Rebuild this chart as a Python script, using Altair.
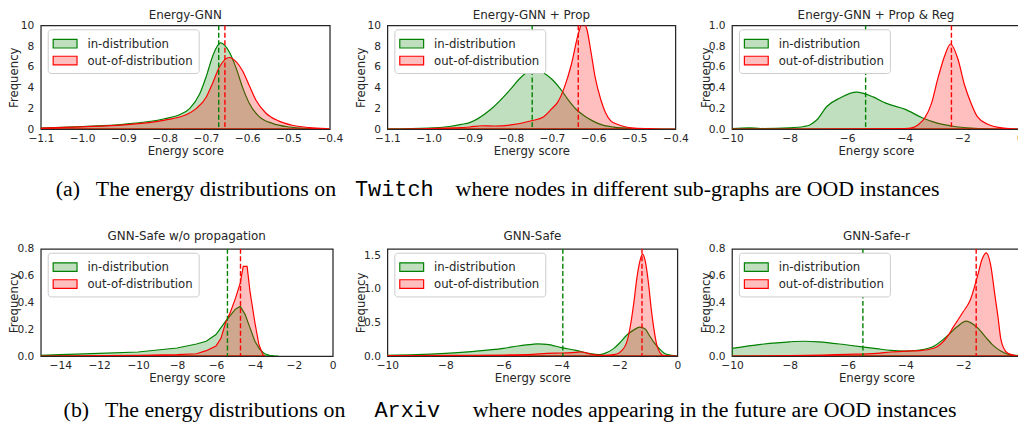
import altair as alt
import pandas as pd

GREEN = "#008000"
RED = "#ff0000"
GREEN_FILL = "rgba(0,128,0,0.25)"
RED_FILL = "rgba(255,0,0,0.25)"
TEXT = "#262626"
FONT = "DejaVu Sans"
SERIF = "Liberation Serif"
MONO = "Liberation Mono"
SERIES = ["in-distribution", "out-of-distribution"]

# ---------------- data ----------------
# (a) Twitch
p1_title = "Energy-GNN"
p1_in_x = [-1.1, -1.0, -0.9, -0.8, -0.763, -0.739, -0.715, -0.699, -0.683, -0.665, -0.643, -0.627, -0.611, -0.595, -0.571, -0.539, -0.498, -0.45, -0.4]
p1_in_y = [0.10, 0.25, 0.46, 1.0, 1.4, 2.0, 3.4, 5.1, 7.1, 8.3, 7.4, 5.9, 4.0, 2.5, 1.2, 0.55, 0.2, 0.06, 0.0]
p1_out_x = [-1.1, -1.0, -0.9, -0.8, -0.747, -0.723, -0.699, -0.683, -0.667, -0.643, -0.627, -0.611, -0.595, -0.579, -0.555, -0.523, -0.491, -0.45, -0.405, -0.4]
p1_out_y = [0.10, 0.22, 0.40, 0.87, 1.4, 2.0, 3.1, 4.5, 6.0, 6.9, 6.5, 5.6, 4.2, 2.8, 1.55, 0.77, 0.37, 0.15, 0.03, 0.02]
p1_means = [-0.669, -0.654]

p2_title = "Energy-GNN + Prop"
p2_in_x = [-1.1, -1.0, -0.95, -0.92, -0.9, -0.85, -0.8, -0.78, -0.76, -0.748, -0.72, -0.7, -0.68, -0.66, -0.64, -0.62, -0.6, -0.58, -0.55, -0.5, -0.45, -0.4]
p2_in_y = [0.02, 0.10, 0.25, 0.45, 0.62, 1.86, 3.87, 4.8, 5.5, 5.8, 5.4, 4.8, 3.9, 2.8, 1.86, 1.24, 0.77, 0.43, 0.19, 0.05, 0.01, 0.0]
p2_out_x = [-1.1, -1.0, -0.9, -0.87, -0.84, -0.8, -0.75, -0.72, -0.702, -0.686, -0.67, -0.653, -0.637, -0.625, -0.615, -0.605, -0.595, -0.581, -0.57, -0.557, -0.54, -0.525, -0.5, -0.45, -0.4]
p2_out_y = [0.0, 0.05, 0.2, 0.32, 0.3, 0.4, 0.8, 1.2, 1.9, 2.6, 4.0, 6.2, 9.0, 10.3, 9.6, 7.4, 5.0, 2.8, 1.6, 0.8, 0.45, 0.25, 0.1, 0.03, 0.0]
p2_means = [-0.748, -0.636]

p3_title = "Energy-GNN + Prop & Reg"
p3_in_x = [-10, -9.4, -9, -8, -7.5, -7.3, -7.05, -6.7, -6.25, -5.68, -5.1, -4.66, -3.98, -3.4, -2.84, -2.27, -1.7, -1.0, 0]
p3_in_y = [0.005, 0.012, 0.006, 0.012, 0.025, 0.04, 0.09, 0.22, 0.30, 0.356, 0.31, 0.25, 0.19, 0.11, 0.055, 0.025, 0.01, 0.003, 0.0]
p3_out_x = [-10, -6, -4, -3.75, -3.52, -3.3, -3.07, -2.84, -2.61, -2.41, -2.16, -1.93, -1.7, -1.48, -1.14, -0.57, 0]
p3_out_y = [0.0, 0.002, 0.005, 0.012, 0.045, 0.11, 0.25, 0.5, 0.71, 0.82, 0.68, 0.43, 0.25, 0.12, 0.05, 0.01, 0.0]
p3_means = [-5.36, -2.38]

# (b) Arxiv
p4_title = "GNN-Safe w/o propagation"
p4_in_x = [-15, -14, -12, -10, -9, -8, -7, -6.5, -6, -5.5, -5, -4.75, -4.5, -4.25, -4, -3.75, -3.5, -3.25, -3, -2.8]
p4_in_y = [0.005, 0.01, 0.02, 0.03, 0.045, 0.06, 0.09, 0.11, 0.16, 0.26, 0.35, 0.37, 0.31, 0.21, 0.11, 0.05, 0.017, 0.006, 0.002, 0.0]
p4_out_x = [-15, -10, -8, -7, -6.5, -6, -5.75, -5.5, -5.25, -5, -4.75, -4.6, -4.4, -4.25, -4, -3.8, -3.6, -3.5]
p4_out_y = [0.0, 0.005, 0.01, 0.017, 0.04, 0.075, 0.13, 0.25, 0.33, 0.43, 0.545, 0.668, 0.668, 0.48, 0.25, 0.09, 0.012, 0.0]
p4_means = [-5.41, -4.74]

p5_title = "GNN-Safe"
p5_in_x = [-10, -9, -8, -7, -6, -5.5, -5, -4.8, -4.5, -4, -3.5, -3, -2.7, -2.5, -2.2, -2, -1.75, -1.5, -1.3, -1.1, -1.0, -0.8, -0.6, -0.4, -0.2, 0]
p5_in_y = [0.01, 0.02, 0.04, 0.07, 0.115, 0.15, 0.175, 0.18, 0.175, 0.125, 0.085, 0.035, 0.02, 0.04, 0.11, 0.19, 0.31, 0.39, 0.43, 0.40, 0.33, 0.2, 0.1, 0.03, 0.01, 0.0]
p5_out_x = [-10, -8, -6, -5, -4.5, -4, -3.5, -3.3, -3, -2.5, -2.2, -2, -1.75, -1.6, -1.5, -1.4, -1.3, -1.2, -1.1, -1.0, -0.9, -0.8, -0.7, -0.6, -0.5, 0]
p5_out_y = [0.005, 0.01, 0.015, 0.025, 0.04, 0.045, 0.055, 0.06, 0.03, 0.01, 0.02, 0.05, 0.2, 0.5, 0.8, 1.15, 1.4, 1.52, 1.4, 1.1, 0.7, 0.38, 0.15, 0.05, 0.01, 0.0]
p5_means = [-3.95, -1.22]

p6_title = "GNN-Safe-r"
p6_in_x = [-10, -9, -8, -7.5, -7, -6, -5, -4.5, -4, -3.5, -3, -2.5, -2.2, -1.9, -1.5, -1.2, -1.0, -0.7, -0.4, 0]
p6_in_y = [0.057, 0.087, 0.106, 0.11, 0.106, 0.082, 0.055, 0.042, 0.037, 0.045, 0.075, 0.16, 0.22, 0.26, 0.21, 0.136, 0.087, 0.037, 0.01, 0.002]
p6_out_x = [-10, -8, -6, -5, -4.5, -4, -3.5, -3, -2.5, -2.36, -2, -1.75, -1.5, -1.35, -1.2, -1.05, -0.9, -0.8, -0.7, -0.6, -0.45, -0.2, 0]
p6_out_y = [0.0, 0.003, 0.012, 0.02, 0.03, 0.037, 0.04, 0.06, 0.16, 0.21, 0.33, 0.42, 0.6, 0.72, 0.77, 0.68, 0.45, 0.3, 0.13, 0.06, 0.02, 0.004, 0.0]
p6_means = [-5.47, -1.55]

# axis ticks
x_ticks_twitch = [-1.1, -1.0, -0.9, -0.8, -0.7, -0.6, -0.5, -0.4]
x_ticks_10 = [-10, -8, -6, -4, -2, 0]
x_ticks_15 = [-14, -12, -10, -8, -6, -4, -2, 0]
y_ticks_10 = [0, 2, 4, 6, 8, 10]
y_ticks_1 = [0.0, 0.2, 0.4, 0.6, 0.8, 1.0]
y_ticks_08 = [0.0, 0.2, 0.4, 0.6, 0.8]
y_ticks_15 = [0.0, 0.5, 1.0, 1.5]

cap_a = ["(a)\u2002 The energy distributions on", "Twitch", "where nodes in different sub-graphs are OOD instances"]
cap_b = ["(b)\u2002 The energy distributions on", "Arxiv", "where nodes appearing in the future are OOD instances"]

LEG_SYMBOL = "M-1.386,-0.5H1.386V0.5H-1.386Z"


def legend():
    return alt.Legend(
        orient="none", legendX=7, legendY=4, title=None, symbolType=LEG_SYMBOL, symbolSize=300,
        symbolStrokeWidth=1.2, symbolOffset=3, labelFont=FONT, labelFontSize=11.8,
        labelColor=TEXT, labelOffset=13, padding=5, rowPadding=0, fillColor="white",
        strokeColor="#cccccc", cornerRadius=3,
    )


def text_layer(t, x, y, font, size, align, color):
    return alt.Chart(pd.DataFrame({"t": [t]})).mark_text(
        font=font, fontSize=size, align=align, baseline="alphabetic", color=color
    ).encode(text="t:N", x=alt.value(x), y=alt.value(y))


def panel(title, xin, yin, xout, yout, means, xdom, xticks, xfmt, ydom, yticks, yfmt,
          w, h, interp, title_y, caption=None):
    df = pd.DataFrame({
        "x": list(xin) + list(xout),
        "y": list(yin) + list(yout),
        "s": [SERIES[0]] * len(xin) + [SERIES[1]] * len(xout),
    })
    xscale = alt.Scale(domain=xdom, nice=False, zero=False)
    xenc = alt.X("x:Q", scale=xscale,
                 axis=alt.Axis(values=xticks, format=xfmt, title="Energy score",
                               labelPadding=4.5, titlePadding=2.5))
    yenc = alt.Y("y:Q", stack=None, scale=alt.Scale(domain=ydom, nice=False, zero=True),
                 axis=alt.Axis(values=yticks, format=yfmt, title="Frequency",
                               labelPadding=7, titleX=-21))
    area = alt.Chart(df).mark_area(
        interpolate=interp, clip=True, strokeWidth=1.2, opacity=1
    ).encode(
        x=xenc, y=yenc,
        fill=alt.Fill("s:N", scale=alt.Scale(domain=SERIES, range=[GREEN_FILL, RED_FILL]), legend=legend()),
        stroke=alt.Stroke("s:N", scale=alt.Scale(domain=SERIES, range=[GREEN, RED]), legend=legend()),
    )
    layers = [area]
    for m, c in zip(means, [GREEN, RED]):
        layers.append(
            alt.Chart(pd.DataFrame({"m": [m]})).mark_rule(
                color=c, strokeDash=[5, 2.5], strokeWidth=1.4, clip=True
            ).encode(x=alt.X("m:Q", scale=xscale))
        )
    layers.append(text_layer(title, w / 2, title_y, FONT, 12, "center", TEXT))
    if caption is not None:
        parts, xs, cy = caption
        layers.append(text_layer(parts[0], xs[0], cy, SERIF, 22, "left", "black"))
        layers.append(text_layer(parts[1], xs[1], cy, MONO, 22, "center", "black"))
        layers.append(text_layer(parts[2], xs[2], cy, SERIF, 22, "right", "black"))
    return alt.layer(*layers).properties(
        width=w, height=h,
        view=alt.ViewBackground(stroke=TEXT, strokeWidth=1.25),
    )


R1H = 104.5
R2H = 108
panels = [
    panel(p1_title, p1_in_x, p1_in_y, p1_out_x, p1_out_y, p1_means, [-1.1, -0.4], x_ticks_twitch, ".1f",
          [0, 10], y_ticks_10, "d", 291, R1H, "monotone", -6, (cap_a, [15, 356, 905], 172)),
    panel(p2_title, p2_in_x, p2_in_y, p2_out_x, p2_out_y, p2_means, [-1.1, -0.4], x_ticks_twitch, ".1f",
          [0, 10], y_ticks_10, "d", 290, R1H, "monotone", -6),
    panel(p3_title, p3_in_x, p3_in_y, p3_out_x, p3_out_y, p3_means, [-10, 0], x_ticks_10, "d",
          [0, 1.0], y_ticks_1, ".1f", 290, R1H, "monotone", -6),
    panel(p4_title, p4_in_x, p4_in_y, p4_out_x, p4_out_y, p4_means, [-15, 0], x_ticks_15, "d",
          [0, 0.8], y_ticks_08, ".1f", 294, R2H, "linear", -9, (cap_b, [23, 369, 922], 169)),
    panel(p5_title, p5_in_x, p5_in_y, p5_out_x, p5_out_y, p5_means, [-10, 0], x_ticks_10, "d",
          [0, 1.6], y_ticks_15, ".1f", 292, R2H, "monotone", -9),
    panel(p6_title, p6_in_x, p6_in_y, p6_out_x, p6_out_y, p6_means, [-10, 0], x_ticks_10, "d",
          [0, 0.8], y_ticks_08, ".1f", 291, R2H, "monotone", -9),
]

chart = alt.concat(
    *panels, columns=3, spacing=alt.RowColnumber(row=120, column=55), bounds="flush"
).resolve_scale(
    fill="independent", stroke="independent"
).properties(
    padding={"left": 0, "top": -1, "right": -8, "bottom": 0}, background="white"
).configure_view(stroke="transparent").configure_axis(
    labelFont=FONT, labelFontSize=10.7, labelColor=TEXT, titleFont=FONT, titleFontSize=11.8,
    titleColor=TEXT, titleFontWeight="normal", domain=False, ticks=False, grid=False,
    labelFlush=False, labelOverlap=False,
)

chart.save("out.html", embed_options={"renderer": "svg", "actions": False})
